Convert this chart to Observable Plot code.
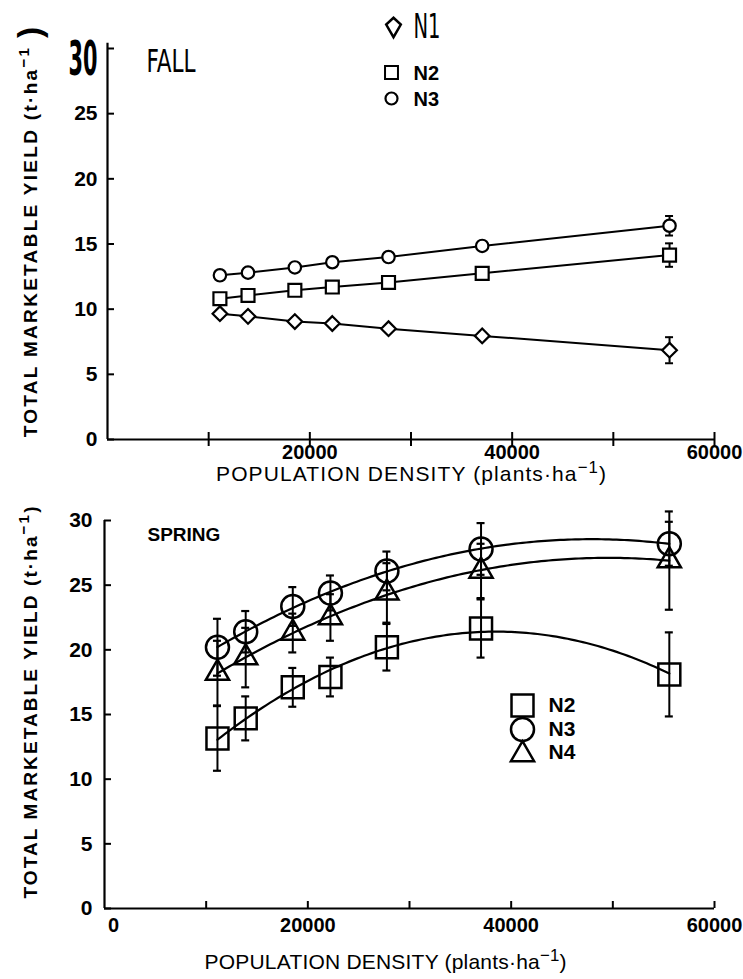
<!DOCTYPE html>
<html>
<head>
<meta charset="utf-8">
<script src="https://cdn.jsdelivr.net/npm/d3@7"></script>
<script src="https://cdn.jsdelivr.net/npm/@observablehq/plot@0.6"></script>
<style>
  body { margin: 0; background: #fff; }
  #chart { position: relative; width: 743px; height: 979px; background: #fff; }
  #chart svg { display: block; }
</style>
</head>
<body>
<div id="chart"></div>
<script>
// ---------- data ----------
const density = [11111, 13889, 18519, 22222, 27778, 37037, 55556];

// FALL (t/ha)
const fallN1 = [9.65, 9.45, 9.05, 8.9, 8.5, 7.95, 6.85];
const fallN2 = [10.8, 11.05, 11.45, 11.7, 12.05, 12.75, 14.15];
const fallN3 = [12.6, 12.8, 13.2, 13.6, 14.0, 14.85, 16.4];
const fallSeN1 = [0.2, 0.2, 0.2, 0.2, 0.2, 0.2, 1.0];
const fallSeN2 = [0.2, 0.2, 0.2, 0.2, 0.2, 0.2, 0.9];
const fallSeN3 = [0.2, 0.2, 0.2, 0.2, 0.2, 0.2, 0.75];

// SPRING (t/ha)
const springN2 = [13.15, 14.7, 17.1, 17.9, 20.2, 21.65, 18.1];
const springN3 = [20.2, 21.4, 23.35, 24.4, 26.1, 27.8, 28.2];
const springN4 = [18.2, 19.4, 21.3, 22.5, 24.4, 26.1, 26.9];
const springSeN2 = [2.5, 1.7, 1.5, 1.5, 1.8, 2.25, 3.25];
const springSeN3 = [2.2, 1.6, 1.5, 1.35, 1.5, 2.0, 1.7];
const springSeN4 = [2.5, 2.3, 1.5, 1.8, 2.3, 2.1, 3.8];

const xTicks = [10000, 20000, 30000, 40000, 50000, 60000];
const fallXLabels = [20000, 40000, 60000];
const springXLabels = [20000, 40000, 60000];
const springXZero = [0];
const yTicks = [0, 5, 10, 15, 20, 25, 30];
const fallYLabels = [0, 5, 10, 15, 20, 25];
const springYLabels = [0, 5, 10, 15, 20, 25, 30];

const xTitle = "POPULATION DENSITY (plants·ha{−1})";
const yTitleFall = "TOTAL MARKETABLE YIELD (t·ha{−1} [)]";
const yTitleSpring = "TOTAL MARKETABLE YIELD (t·ha{−1})";

// ---------- tables ----------
function table(series, values, ses) {
  return density.map((x, i) => ({series, x, y: values[i], se: ses[i]}));
}
const fall = [
  ...table("N1", fallN1, fallSeN1),
  ...table("N2", fallN2, fallSeN2),
  ...table("N3", fallN3, fallSeN3)
];
const spring = [
  ...table("N2", springN2, springSeN2),
  ...table("N3", springN3, springSeN3),
  ...table("N4", springN4, springSeN4)
];

// quadratic least-squares fit (regression curve for spring)
function quadFit(rows) {
  const S = [[0,0,0],[0,0,0],[0,0,0]], b = [0,0,0];
  for (const d of rows) {
    const u = d.x / 10000, p = [1, u, u*u];
    for (let j = 0; j < 3; j++) { b[j] += p[j]*d.y; for (let k = 0; k < 3; k++) S[j][k] += p[j]*p[k]; }
  }
  const A = S.map((r, i) => [...r, b[i]]);
  for (let c = 0; c < 3; c++) {
    let piv = c; for (let r = c+1; r < 3; r++) if (Math.abs(A[r][c]) > Math.abs(A[piv][c])) piv = r;
    [A[c], A[piv]] = [A[piv], A[c]];
    for (let r = 0; r < 3; r++) if (r !== c) {
      const f = A[r][c] / A[c][c];
      for (let k = c; k < 4; k++) A[r][k] -= f*A[c][k];
    }
  }
  const coef = A.map((r, i) => r[3] / r[i]);
  return x => { const u = x/10000; return coef[0] + coef[1]*u + coef[2]*u*u; };
}
const springCurves = [];
for (const s of ["N2", "N3", "N4"]) {
  const rows = spring.filter(d => d.series === s);
  const f = quadFit(rows);
  const x0 = d3.min(rows, d => d.x), x1 = d3.max(rows, d => d.x);
  for (let i = 0; i <= 120; i++) { const x = x0 + (x1 - x0)*i/120; springCurves.push({series: s, x, y: f(x)}); }
}

// custom kite symbol for the N1 legend entry
const kite = {draw(c, size) { const k = Math.sqrt(size)/20;
  c.moveTo(0, -10*k); c.lineTo(7.5*k, -3*k); c.lineTo(0, 10*k); c.lineTo(-7.5*k, -3*k); c.closePath(); }};

const FONT = "'Liberation Sans', Arial, Helvetica, sans-serif";
const NARROW = "'Liberation Sans Narrow', 'DejaVu Sans Condensed', 'Liberation Sans', sans-serif";

// ---------- FALL panel ----------
const topSvg = Plot.plot({
  width: 743, height: 490,
  marginLeft: 107, marginRight: 29, marginTop: 48, marginBottom: 51,
  x: {domain: [0, 60000], axis: null},
  y: {domain: [0, 30], axis: null},
  style: {fontFamily: FONT, background: "#fff", color: "#000", overflow: "visible"},
  marks: [
    Plot.ruleY([0], {x1: () => 0, x2: () => 60000, strokeWidth: 2.2}),
    Plot.ruleX([0], {y1: () => 0, y2: () => 30.4, strokeWidth: 2.2}),
    Plot.ruleX(xTicks, {x: d => d, y1: () => 0, y2: () => 0, insetTop: -7, insetBottom: -7, strokeWidth: 2}),
    Plot.ruleY(yTicks, {y: d => d, x1: () => 0, x2: () => 0, insetRight: -7, strokeWidth: 2}),
    Plot.text(fallYLabels, {y: d => d, text: d => String(d), frameAnchor: "left", dx: -10, textAnchor: "end", fontSize: 21, fontWeight: "bold"}),
    Plot.text(["30"], {frameAnchor: "top-left", dx: -10, dy: -8, textAnchor: "end", fontSize: 48, fontFamily: NARROW, fontWeight: "bold"}),
    Plot.text(fallXLabels, {x: d => d, text: d => String(d), frameAnchor: "bottom", dy: 13, lineAnchor: "middle", fontSize: 20, fontWeight: "bold"}),
    Plot.text([xTitle], {frameAnchor: "bottom", dy: 35, lineAnchor: "middle", fontSize: 21}),
    Plot.text([yTitleFall], {frameAnchor: "left", dx: -77, dy: -13, rotate: -90, textAnchor: "middle", lineAnchor: "middle", fontSize: 19, fontWeight: "bold"}),
    Plot.text(["FALL"], {frameAnchor: "top-left", dx: 39, dy: 13, textAnchor: "start", lineAnchor: "middle", fontSize: 32, fontFamily: NARROW}),
    // legend
    Plot.dot([0], {frameAnchor: "top-left", dx: 286, dy: -21, symbol: kite, r: 11, stroke: "#000", strokeWidth: 2.5, fill: "#fff"}),
    Plot.text(["N1"], {frameAnchor: "top-left", dx: 306, dy: -21, textAnchor: "start", lineAnchor: "middle", fontSize: 34, fontFamily: NARROW}),
    Plot.dot([0], {frameAnchor: "top-left", dx: 284, dy: 24, symbol: "square", r: 7.3, stroke: "#000", strokeWidth: 2, fill: "#fff"}),
    Plot.text(["N2"], {frameAnchor: "top-left", dx: 306, dy: 25, textAnchor: "start", lineAnchor: "middle", fontSize: 20, fontWeight: "bold"}),
    Plot.dot([0], {frameAnchor: "top-left", dx: 284, dy: 50, symbol: "circle", r: 6, stroke: "#000", strokeWidth: 2.2, fill: "#fff"}),
    Plot.text(["N3"], {frameAnchor: "top-left", dx: 306, dy: 51, textAnchor: "start", lineAnchor: "middle", fontSize: 20, fontWeight: "bold"}),
    // data
    Plot.line(fall, {x: "x", y: "y", z: "series", stroke: "#000", strokeWidth: 2}),
    Plot.ruleX(fall, {x: "x", y1: d => d.y - d.se, y2: d => d.y + d.se, stroke: "#000", strokeWidth: 2}),
    Plot.ruleY(fall, {y: d => d.y + d.se, x1: "x", x2: "x", insetLeft: -4, insetRight: -4, strokeWidth: 2}),
    Plot.ruleY(fall, {y: d => d.y - d.se, x1: "x", x2: "x", insetLeft: -4, insetRight: -4, strokeWidth: 2}),
    Plot.dot(fall.filter(d => d.series === "N1"), {x: "x", y: "y", symbol: "diamond2", r: 6.6, stroke: "#000", strokeWidth: 2.2, fill: "#fff"}),
    Plot.dot(fall.filter(d => d.series === "N2"), {x: "x", y: "y", symbol: "square", r: 7.3, stroke: "#000", strokeWidth: 2.2, fill: "#fff"}),
    Plot.dot(fall.filter(d => d.series === "N3"), {x: "x", y: "y", symbol: "circle", r: 6.2, stroke: "#000", strokeWidth: 2.2, fill: "#fff"})
  ]
});

// ---------- SPRING panel ----------
const bottomSvg = Plot.plot({
  width: 743, height: 489,
  marginLeft: 104, marginRight: 29, marginTop: 30, marginBottom: 71,
  x: {domain: [0, 60000], axis: null},
  y: {domain: [0, 30], axis: null},
  style: {fontFamily: FONT, background: "#fff", color: "#000", overflow: "visible"},
  marks: [
    Plot.ruleY([0], {x1: () => 0, x2: () => 60000, strokeWidth: 2.2}),
    Plot.ruleX([0], {y1: () => 0, y2: () => 30, strokeWidth: 2.2}),
    Plot.ruleX(xTicks, {x: d => d, y1: () => 0, y2: () => 0, insetTop: -7, insetBottom: 0, strokeWidth: 2}),
    Plot.ruleY(yTicks, {y: d => d, x1: () => 0, x2: () => 0, insetRight: -7, strokeWidth: 2}),
    Plot.text(springYLabels, {y: d => d, text: d => String(d), frameAnchor: "left", dx: -12, textAnchor: "end", fontSize: 21, fontWeight: "bold"}),
    Plot.text(springXLabels, {x: d => d, text: d => String(d), frameAnchor: "bottom", dy: 17, lineAnchor: "middle", fontSize: 20, fontWeight: "bold"}),
    Plot.text(springXZero, {x: d => d, text: d => String(d), frameAnchor: "bottom", dx: 9, dy: 17, lineAnchor: "middle", fontSize: 20, fontWeight: "bold"}),
    Plot.text([xTitle], {frameAnchor: "bottom", dx: -24, dy: 54, lineAnchor: "middle", fontSize: 21}),
    Plot.text([yTitleSpring], {frameAnchor: "left", dx: -74, dy: -13, rotate: -90, textAnchor: "middle", lineAnchor: "middle", fontSize: 19, fontWeight: "bold"}),
    Plot.text(["SPRING"], {frameAnchor: "top-left", dx: 43, dy: 14, textAnchor: "start", lineAnchor: "middle", fontSize: 19, fontWeight: "bold"}),
    // legend
    Plot.dot([0], {frameAnchor: "top-left", dx: 418, dy: 185, symbol: "square", r: 12.4, stroke: "#000", strokeWidth: 2.5, fill: "none"}),
    Plot.text(["N2"], {frameAnchor: "top-left", dx: 444, dy: 185, textAnchor: "start", lineAnchor: "middle", fontSize: 21, fontWeight: "bold"}),
    Plot.dot([0], {frameAnchor: "top-left", dx: 418, dy: 209, symbol: "circle", r: 11.5, stroke: "#000", strokeWidth: 2.5, fill: "none"}),
    Plot.text(["N3"], {frameAnchor: "top-left", dx: 444, dy: 209, textAnchor: "start", lineAnchor: "middle", fontSize: 21, fontWeight: "bold"}),
    Plot.dot([0], {frameAnchor: "top-left", dx: 418, dy: 234, symbol: "triangle", r: 8.6, stroke: "#000", strokeWidth: 2.5, fill: "none"}),
    Plot.text(["N4"], {frameAnchor: "top-left", dx: 444, dy: 232, textAnchor: "start", lineAnchor: "middle", fontSize: 21, fontWeight: "bold"}),
    // data
    Plot.line(springCurves, {x: "x", y: "y", z: "series", stroke: "#000", strokeWidth: 2.2}),
    Plot.ruleX(spring, {x: "x", y1: d => d.y - d.se, y2: d => d.y + d.se, stroke: "#000", strokeWidth: 2}),
    Plot.ruleY(spring, {y: d => d.y + d.se, x1: "x", x2: "x", insetLeft: -4, insetRight: -4, strokeWidth: 2.2}),
    Plot.ruleY(spring, {y: d => d.y - d.se, x1: "x", x2: "x", insetLeft: -4, insetRight: -4, strokeWidth: 2.2}),
    Plot.dot(spring.filter(d => d.series === "N2"), {x: "x", y: "y", symbol: "square", r: 12.4, stroke: "#000", strokeWidth: 2.5, fill: "none"}),
    Plot.dot(spring.filter(d => d.series === "N3"), {x: "x", y: "y", symbol: "circle", r: 11.5, stroke: "#000", strokeWidth: 2.5, fill: "none"}),
    Plot.dot(spring.filter(d => d.series === "N4"), {x: "x", y: "y", symbol: "triangle", r: 8.6, stroke: "#000", strokeWidth: 2.5, fill: "none"})
  ]
});

// ---------- rich text (superscripts, big paren, condensed labels) ----------
function richify(svg, lengths) {
  d3.select(svg).selectAll("text").each(function() {
    const t = this.textContent;
    if (lengths && lengths[t] !== undefined && this.childElementCount === 0) {
      this.setAttribute("textLength", lengths[t]);
      this.setAttribute("lengthAdjust", "spacingAndGlyphs");
      return;
    }
    if (!/[{\[]/.test(t)) return;
    const parts = t.split(/(\{[^}]*\}|\[[^\]]*\])/).filter(s => s);
    this.textContent = "";
    let shift = 0;
    for (const p of parts) {
      const ts = d3.select(this).append("tspan");
      if (p[0] === "{") { ts.text(p.slice(1, -1)).attr("font-size", "0.8em").attr("dy", -8); shift = 8; }
      else if (p[0] === "[") { ts.text(p.slice(1, -1)).attr("font-size", "1.75em").attr("font-weight", "bold").attr("dy", shift + 4); shift = -4; }
      else { ts.text(p).attr("dy", shift); shift = 0; }
    }
    if (t.startsWith("POPULATION")) {
      this.setAttribute("textLength", svg === topSvg ? 390 : 362);
    } else if (t.startsWith("TOTAL")) {
      this.setAttribute("text-anchor", "middle");
      this.style.letterSpacing = svg === topSvg ? "2.3px" : "2.1px";
    }
  });
}
richify(topSvg, {"FALL": 49, "N1": 27, "30": 29});
richify(bottomSvg, null);

const chart = document.getElementById("chart");
chart.appendChild(topSvg);
chart.appendChild(bottomSvg);
</script>
</body>
</html>
